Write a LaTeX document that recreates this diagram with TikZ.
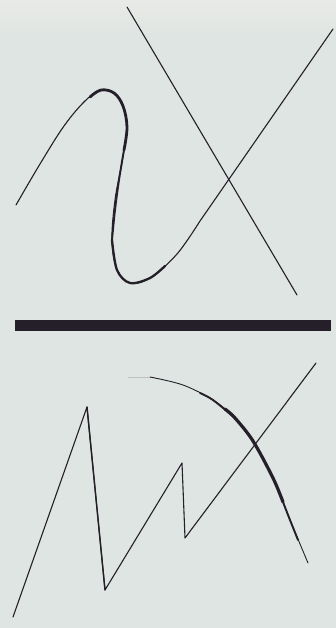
\documentclass[tikz,border=0pt]{standalone}
\usepackage{xcolor}
\usepackage{tikz}
\definecolor{paperbg}{RGB}{223,229,226}
\definecolor{paperband}{RGB}{233,234,231}
\definecolor{inkblack}{RGB}{36,31,40}
\definecolor{inkfade}{RGB}{190,192,190}
\tikzset{
  hair/.style={draw=inkblack, line width=1.1pt, line cap=round, line join=round},
  swell/.style={draw=inkblack, line width=2.8pt, line cap=round, line join=round},
  halfswell/.style={draw=inkblack, line width=1.9pt, line cap=round, line join=round},
  bar/.style={fill=inkblack},
}

\begin{document}
\begin{tikzpicture}[x=1pt, y=-1pt]

  % paper
  \fill[paperbg] (0,0) rectangle (336,628);
  \shade[top color=paperband, bottom color=paperbg] (0,0) rectangle (336,36);
  \useasboundingbox (0,0) rectangle (336,628);

  % upper field: the cross and the S
  \coordinate (crossTop) at (127,7);
  \coordinate (crossEnd) at (297,295);
  \coordinate (slopeTop) at (333,29);
  \draw[hair] (crossTop) -- (crossEnd);
  \draw[hair] plot[smooth, tension=0.6] coordinates {(16,205) (40,164) (64,126) (85,101) (101,90) (114,93) (123,106) (127,127) (122,162) (115,200) (112,240) (117,270) (130,283) (150,278) (177,254) (200,221)} -- (slopeTop);
  \draw[swell] plot[smooth, tension=0.6] coordinates {(90,97) (101,90) (114,93) (123,106) (127,127) (124,150)};
  \draw[halfswell] plot[smooth, tension=0.55] coordinates {(124,150) (119,180) (115,210) (112,240)};
  \draw[swell, line width=2.3pt] plot[smooth, tension=0.55] coordinates {(112,240) (117,270) (130,283) (150,278) (165,266)};

  % the bar
  \fill[bar] (15,320) rectangle (331,331);

  % lower field: zigzag and the arc
  \coordinate (zigStart) at (13,617);
  \coordinate (zigPeak) at (87,407);
  \coordinate (zigLow) at (105,590);
  \coordinate (zigMid) at (182,463);
  \coordinate (zigDip) at (185,538);
  \coordinate (zigTop) at (316,363);
  \draw[hair] (zigStart) -- (zigPeak) -- (zigLow) -- (zigMid) -- (zigDip) -- (zigTop);
  \draw[hair, line width=1.4pt] (zigPeak) -- (zigLow);

  \draw[draw=inkfade, line width=1pt, line cap=round] (128,377) -- (150,377);
  \draw[hair, line width=0.9pt] plot[smooth, tension=0.55] coordinates {(150,377) (183,385) (213,400) (235,418) (253,441) (273,478) (290,520) (308,563)};
  \draw[halfswell] plot[smooth, tension=0.55] coordinates {(200,393) (213,400) (235,418)};
  \draw[swell, line width=3.2pt] plot[smooth, tension=0.55] coordinates {(225,409) (235,418) (253,441) (273,478) (283,502)};
  \draw[halfswell] plot[smooth, tension=0.55] coordinates {(283,502) (290,520) (298,540)};

\end{tikzpicture}
\end{document}
